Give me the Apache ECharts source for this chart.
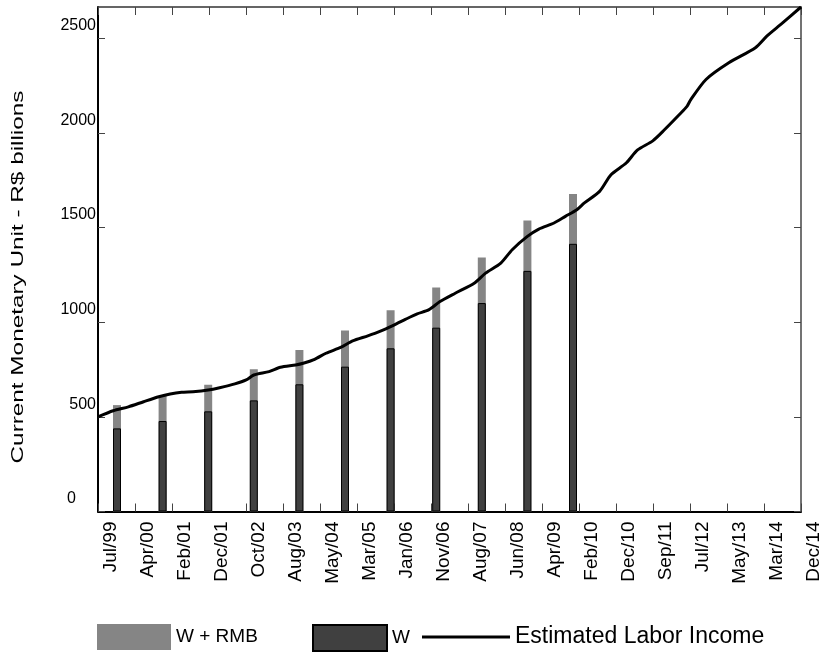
<!DOCTYPE html>
<html>
<head>
<meta charset="utf-8">
<script src="https://cdn.jsdelivr.net/npm/echarts@6/dist/echarts.min.js"></script>
<style>
html,body{margin:0;padding:0;background:#fff;}
#chart{width:827px;height:655px;}
</style>
</head>
<body>
<div id="chart"></div>
<script>
// ---- Data ----
// x tick labels (monthly axis, Jul/99 = month 0 ... Dec/14 = month 185)
const tickLabels = ['Jul/99','Apr/00','Feb/01','Dec/01','Oct/02','Aug/03','May/04','Mar/05','Jan/06','Nov/06',
  'Aug/07','Jun/08','Apr/09','Feb/10','Dec/10','Sep/11','Jul/12','May/13','Mar/14','Dec/14'];
const yTicks = [0, 500, 1000, 1500, 2000, 2500];

// annual bars, placed at December of each year (months after Jul/99)
const barMonths = [5, 17, 29, 41, 53, 65, 77, 89, 101, 113, 125];
const wPlusRmb = [562, 612, 670, 751, 853, 956, 1063, 1183, 1342, 1537, 1677];
const wValues  = [439, 478, 529, 587, 672, 765, 862, 971, 1101, 1271, 1414];

// estimated labor income line, read at months after Jul/99
const lineMonths = [0,4,8,12,16,19,22,25,29,32,36,39,41,45,48,52,54,57,60,64,67,71,74,78,81,84,87,90,94,99,
  102,106,109,113,116,120,123,126,128,132,135,139,142,146,149,153,155,156,160,166,173,176,180,185];
const lineValues = [500,532,553,580,606,621,630,633,642,654,674,695,721,739,762,774,783,804,836,868,901,928,950,986,1016,1044,1065,1109,1153,1206,
  1259,1312,1383,1453,1492,1524,1559,1594,1630,1691,1779,1841,1910,1958,2015,2097,2140,2176,2282,2370,2450,2511,2578,2665];

const totalMonths = 185;
const yMax = 2665;

// ---- Build ----
const xTickVals = tickLabels.map((_, i) => i * totalMonths / (tickLabels.length - 1));
const labelFor = v => tickLabels[Math.round(v * (tickLabels.length - 1) / totalMonths)];
const FONT = '"Liberation Sans", Arial, sans-serif';

const chart = echarts.init(document.getElementById('chart'), null, {renderer: 'canvas'});
chart.setOption({
  animation: false,
  backgroundColor: '#ffffff',
  grid: {left: 98, right: 23, top: 7, bottom: 143.5, show: false},
  xAxis: [{
    type: 'value', min: 0, max: totalMonths, position: 'bottom',
    axisLine: {show: true, onZero: false, lineStyle: {color: '#000', width: 2}},
    axisTick: {show: true, inside: true, length: 8, customValues: xTickVals, lineStyle: {color: '#444', width: 1}},
    axisLabel: {show: true, customValues: xTickVals, rotate: 90, margin: 10, verticalAlign: 'top', lineHeight: 26,
      formatter: labelFor, color: '#000', fontSize: 19, fontFamily: FONT},
    splitLine: {show: false}
  }, {
    type: 'value', min: 0, max: totalMonths, position: 'top',
    axisLine: {show: true, onZero: false, lineStyle: {color: '#333', width: 1.5}},
    axisTick: {show: true, inside: true, length: 8, customValues: xTickVals, lineStyle: {color: '#444', width: 1}},
    axisLabel: {show: false},
    splitLine: {show: false}
  }],
  yAxis: [{
    type: 'value', min: 0, max: yMax, position: 'left',
    axisLine: {show: true, onZero: false, lineStyle: {color: '#000', width: 2}},
    axisTick: {show: true, inside: true, length: 7, customValues: yTicks, lineStyle: {color: '#444', width: 1}},
    axisLabel: {show: true, customValues: yTicks, margin: 2, padding: [0, 0, 25, 0], color: '#000', fontSize: 16, fontFamily: FONT,
      formatter: v => v === 0 ? '{z|0}' : String(v),
      rich: {z: {fontSize: 16, fontFamily: FONT, color: '#000', padding: [0, 20, 0, 0]}}},
    splitLine: {show: false}
  }, {
    type: 'value', min: 0, max: yMax, position: 'right',
    axisLine: {show: true, onZero: false, lineStyle: {color: '#444', width: 1.5}},
    axisTick: {show: true, inside: true, length: 7, customValues: yTicks, lineStyle: {color: '#444', width: 1}},
    axisLabel: {show: false},
    splitLine: {show: false}
  }],
  legend: [{
    data: [{name: 'W + RMB', icon: 'rect'}], left: 97, top: 624, padding: 0, itemWidth: 74, itemHeight: 26,
    textStyle: {fontSize: 19, fontFamily: FONT, color: '#000'}
  }, {
    data: [{name: 'W', icon: 'rect'}], left: 312, top: 624, padding: 0, itemWidth: 74, itemHeight: 26,
    textStyle: {fontSize: 19, fontFamily: FONT, color: '#000'}
  }, {
    data: [{name: 'Estimated Labor Income', icon: 'rect'}], left: 422, top: 625.5, padding: 0, itemWidth: 88, itemHeight: 3,
    textStyle: {fontSize: 23, fontFamily: FONT, color: '#000'}
  }],
  graphic: [{
    type: 'text', x: 18, y: 277, rotation: Math.PI / 2, scaleX: 1.43,
    style: {text: 'Current Monetary Unit - R$ billions', fontSize: 17, fontFamily: FONT, fill: '#000',
      align: 'center', verticalAlign: 'middle'}
  }],
  series: [{
    name: 'W + RMB', type: 'bar', xAxisIndex: 0, yAxisIndex: 0, barWidth: 8,
    data: barMonths.map((m, i) => [m, wPlusRmb[i]]),
    itemStyle: {color: '#858585'}
  }, {
    name: 'W', type: 'bar', xAxisIndex: 0, yAxisIndex: 0, barWidth: 8, barGap: '-100%',
    data: barMonths.map((m, i) => [m, wValues[i]]),
    itemStyle: {color: '#404040', borderColor: '#000', borderWidth: 1}
  }, {
    name: 'Estimated Labor Income', type: 'line', xAxisIndex: 0, yAxisIndex: 0,
    data: lineMonths.map((m, i) => [m, lineValues[i]]),
    symbol: 'none', smooth: 0.25, z: 5,
    lineStyle: {color: '#000', width: 3}, itemStyle: {color: '#000'}
  }]
});
</script>
</body>
</html>
